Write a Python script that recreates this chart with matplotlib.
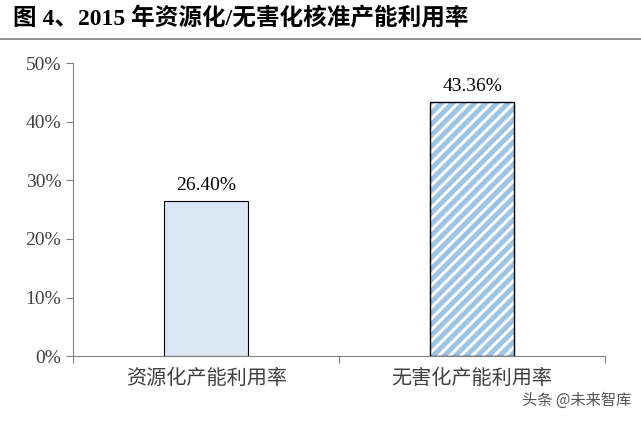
import matplotlib
matplotlib.use("Agg")
import matplotlib.pyplot as plt
from matplotlib.lines import Line2D

plt.rcParams['font.family'] = ['Liberation Serif', 'Noto Sans CJK SC']
plt.rcParams['hatch.linewidth'] = 3.5

categories = ['资源化产能利用率', '无害化产能利用率']
values = [26.40, 43.36]
labels = ['26.40%', '43.36%']
yticks = [0, 10, 20, 30, 40, 50]

fig = plt.figure(figsize=(6.41, 4.21), dpi=100)
fig.text(0.02, 0.955, '图 4、2015 年资源化/无害化核准产能利用率', fontsize=17, fontweight='bold',
         va='center', ha='left', family=['Liberation Serif', 'Noto Sans CJK SC'])
fig.add_artist(Line2D([0, 1], [0.907, 0.907], color='#808080', lw=1.2))

ax = fig.add_axes([0.114, 0.154, 0.830, 0.696])
x = [0, 1]
ax.bar(x[0], values[0], width=0.315, color='#DAE6F3', edgecolor='black', lw=0.8)
ax.bar(x[1], values[1], width=0.315, color='white', edgecolor='#9DC3E6', lw=0, hatch='///')
ax.bar(x[1], values[1], width=0.315, fill=False, edgecolor='black', lw=1.0)
for xi, v, l in zip(x, values, labels):
    ax.text(xi, v + 1.2, l, ha='center', va='bottom', fontsize=14)
ax.set_xlim(-0.5, 1.5)
ax.set_ylim(0, 50)
ax.set_yticks(yticks)
ax.set_yticklabels([f'{t}%' for t in yticks], fontsize=14, color='#404040')
ax.set_xticks([-0.5, 0.5, 1.5], minor=False)
ax.set_xticklabels([])
ax.set_xticks(x, minor=True)
ax.set_xticklabels(categories, minor=True, fontsize=14.5, color='#404040')
ax.tick_params(axis='x', which='minor', length=0, pad=10)
ax.tick_params(axis='x', which='major', length=5, direction='out', color='#808080')
ax.tick_params(axis='y', length=5, direction='out', color='#808080')
for s in ['top', 'right']:
    ax.spines[s].set_visible(False)
for s in ['left', 'bottom']:
    ax.spines[s].set_color('#808080')
fig.text(0.985, 0.03, '头条 @未来智库', fontsize=11, color='#555555', ha='right', va='bottom',
         family=['Noto Sans CJK SC'])
fig.savefig('out.png', dpi=100)
